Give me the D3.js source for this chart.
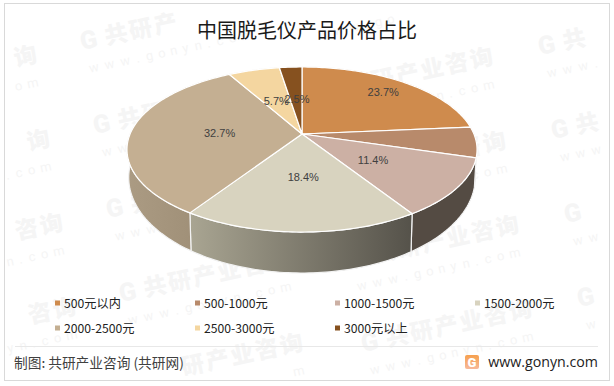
<!DOCTYPE html>
<html><head><meta charset="utf-8">
<script src="https://cdn.jsdelivr.net/npm/d3@7"></script>
<style>html,body{margin:0;padding:0;background:#fff}svg{display:block}text{font-family:"Noto Sans CJK SC","Noto Sans",sans-serif}</style>
</head><body><svg id="c" width="614" height="386"></svg>
<script>
const categories=["500元以内","500-1000元","1000-1500元","1500-2000元","2000-2500元","2500-3000元","3000元以上"];
const values=[23.7,6.0,11.4,18.4,32.7,5.7,2.5];
const valueLabels=["23.7%","","11.4%","18.4%","32.7%","5.7%","2.5%"];
const topColors=["#CF8B4D","#B88A6B","#CCB0A4","#D8D3BF","#C4AF92","#F4D6A0","#86511F"];
const wallLeft=["#CF8B4D","#8a6a52","#544b43","#a9a592","#ab9b83","#F4D6A0","#86511F"];
const wallRight=["#CF8B4D","#544b43","#544b43","#55524a","#9a8a72","#F4D6A0","#86511F"];
const titleText="中国脱毛仪产品价格占比";
const sourceText="制图: 共研产业咨询 (共研网)";
const siteText="www.gonyn.com";
const wmBrand="共研产业咨询";
const wmColumns=[[-145,14],[69,-34],[311,16],[527,-29]];

const svg=d3.select("#c");
svg.append("rect").attr("x",4.5).attr("y",3.5).attr("width",605).attr("height",377).attr("fill","#fff").attr("stroke","#d9d9d9").attr("stroke-width",1);

// watermark: one glyph per element, kept only where the glyph lies wholly on the page
const wm=svg.append("g").attr("fill","#f5f5f5");
const rot=-12*Math.PI/180;
function wmGlyph(x0,y0,ax,ay,ch,size,weight,family,w){
  const px=x0+ax*Math.cos(rot)-ay*Math.sin(rot), py=y0+ax*Math.sin(rot)+ay*Math.cos(rot);
  if(px<6||px+w>606||py-size<10||py>378) return;
  const t=wm.append("text").attr("transform",`translate(${px},${py}) rotate(-12)`)
    .attr("font-size",size).attr("font-weight",weight).text(ch);
  if(family) t.style("font-family",family);
}
wmColumns.forEach(([x0,y0])=>{
  d3.range(6).forEach(i=>{
    const X=x0+13*i, Y=y0+84*i;
    wmGlyph(X,Y,0,0,"G",25,900,"Roboto",18);
    Array.from(wmBrand).forEach((ch,k)=>wmGlyph(X,Y,25+25.2*k,0,ch,23,900,null,23));
    let adv=3;
    Array.from(siteText).forEach(ch=>{
      wmGlyph(X,Y,adv,24,ch,13,400,"Roboto",9);
      adv+=ch==="w"?16:ch==="."?10:12.5;
    });
  });
});

// perspective projection of the unit circle onto the pie plane
const cx=302, apexY=134, kP=-0.188, scaleX=171.9, scaleY=79.6;
function project(theta,sx,sy,y0){
  const x=Math.sin(theta), y=-Math.cos(theta), w=1+kP*y;
  return [cx+sx*scaleX*x/w, y0+sy*scaleY*y/w];
}
const wallSx=0.99, wallSy=1.158, wallY=159.5;
const arcs=d3.pie().sort(null).value(d=>d)(values);
const line=d3.line();
function edge(a0,a1,sx,sy,y0){
  const n=Math.max(2,Math.ceil((a1-a0)/0.02));
  return d3.range(n+1).map(i=>project(a0+(a1-a0)*i/n,sx,sy,y0));
}

const defs=svg.append("defs");
const pie=svg.append("g");
// walls
arcs.forEach((a,i)=>{
  const top=edge(a.startAngle,a.endAngle,1,1,apexY);
  const bot=edge(a.startAngle,a.endAngle,wallSx,wallSy,wallY).reverse();
  const xs=top.concat(bot).map(p=>p[0]);
  const id="w"+i;
  const grad=defs.append("linearGradient").attr("id",id).attr("gradientUnits","userSpaceOnUse")
    .attr("x1",d3.min(xs)).attr("x2",d3.max(xs)).attr("y1",0).attr("y2",0);
  grad.append("stop").attr("offset",0).attr("stop-color",wallLeft[i]);
  grad.append("stop").attr("offset",1).attr("stop-color",wallRight[i]);
  pie.append("path").attr("d",line(top.concat(bot))+"Z").attr("fill",`url(#${id})`)
    .attr("stroke","#f2f2f2").attr("stroke-width",1.2).attr("stroke-linejoin","round");
});
// top surface
arcs.forEach((a,i)=>{
  const pts=[[cx,apexY]].concat(edge(a.startAngle,a.endAngle,1,1,apexY));
  pie.append("path").attr("d",line(pts)+"Z").attr("fill",topColors[i])
    .attr("stroke","#fff").attr("stroke-width",1.2).attr("stroke-linejoin","round");
});
// value labels
const labelR=[0.62,0.6,0.62,0.58,0.6,0.62,0.62];
const labelShift=[[18,-9],[0,0],[-25,-6],[2,-13],[20,2],[4,8],[2,8]];
arcs.forEach((a,i)=>{
  if(!valueLabels[i])return;
  const r=labelR[i];
  const p=project((a.startAngle+a.endAngle)/2,r,r,apexY);
  svg.append("text").attr("x",p[0]+labelShift[i][0]).attr("y",p[1]+labelShift[i][1]).attr("text-anchor","middle").attr("dominant-baseline","middle")
    .attr("font-size",11).attr("fill","#404040").style("font-family","Liberation Sans").text(valueLabels[i]);
});

// title
svg.append("text").attr("x",307).attr("y",38).attr("text-anchor","middle").attr("font-size",20).attr("fill","#1a1a1a").text(titleText);

// legend
const legendX=d3.scalePoint().domain([0,1,2,3]).range([55,475]);
const legendY=d3.scalePoint().domain([0,1]).range([303.5,328.5]);
categories.forEach((c,i)=>{
  const col=i<4?i:i-4, row=i<4?0:1;
  const g=svg.append("g").attr("transform",`translate(${legendX(col)},${legendY(row)})`);
  g.append("rect").attr("x",0).attr("y",-3).attr("width",5).attr("height",5).attr("fill",topColors[i]);
  g.append("text").attr("x",9).attr("y",4.5).attr("font-size",12.2).attr("fill","#222").text(c);
});

// footer
svg.append("line").attr("x1",15).attr("x2",598).attr("y1",346.5).attr("y2",346.5).attr("stroke","#e8e8e8");
svg.append("text").attr("x",14).attr("y",368).attr("font-size",13.7).attr("font-weight",400).attr("fill","#404040").text(sourceText);
defs.append("linearGradient").attr("id","logo").attr("x1",0).attr("x2",0).attr("y1",0).attr("y2",1)
  .call(g=>{g.append("stop").attr("offset",0).attr("stop-color","#f6a04d");g.append("stop").attr("offset",1).attr("stop-color","#f7b99a");});
svg.append("rect").attr("x",465).attr("y",355).attr("width",14).attr("height",14).attr("rx",2).attr("fill","url(#logo)");
svg.append("text").attr("x",472).attr("y",366.5).attr("text-anchor","middle").attr("font-size",13).attr("font-weight",900).style("font-family","Roboto").attr("fill","#fff").text("G");
svg.append("text").attr("x",598).attr("y",367).attr("text-anchor","end").attr("font-size",14.2).attr("fill","#222").style("font-family","Open Sans").text(siteText);
</script></body></html>
